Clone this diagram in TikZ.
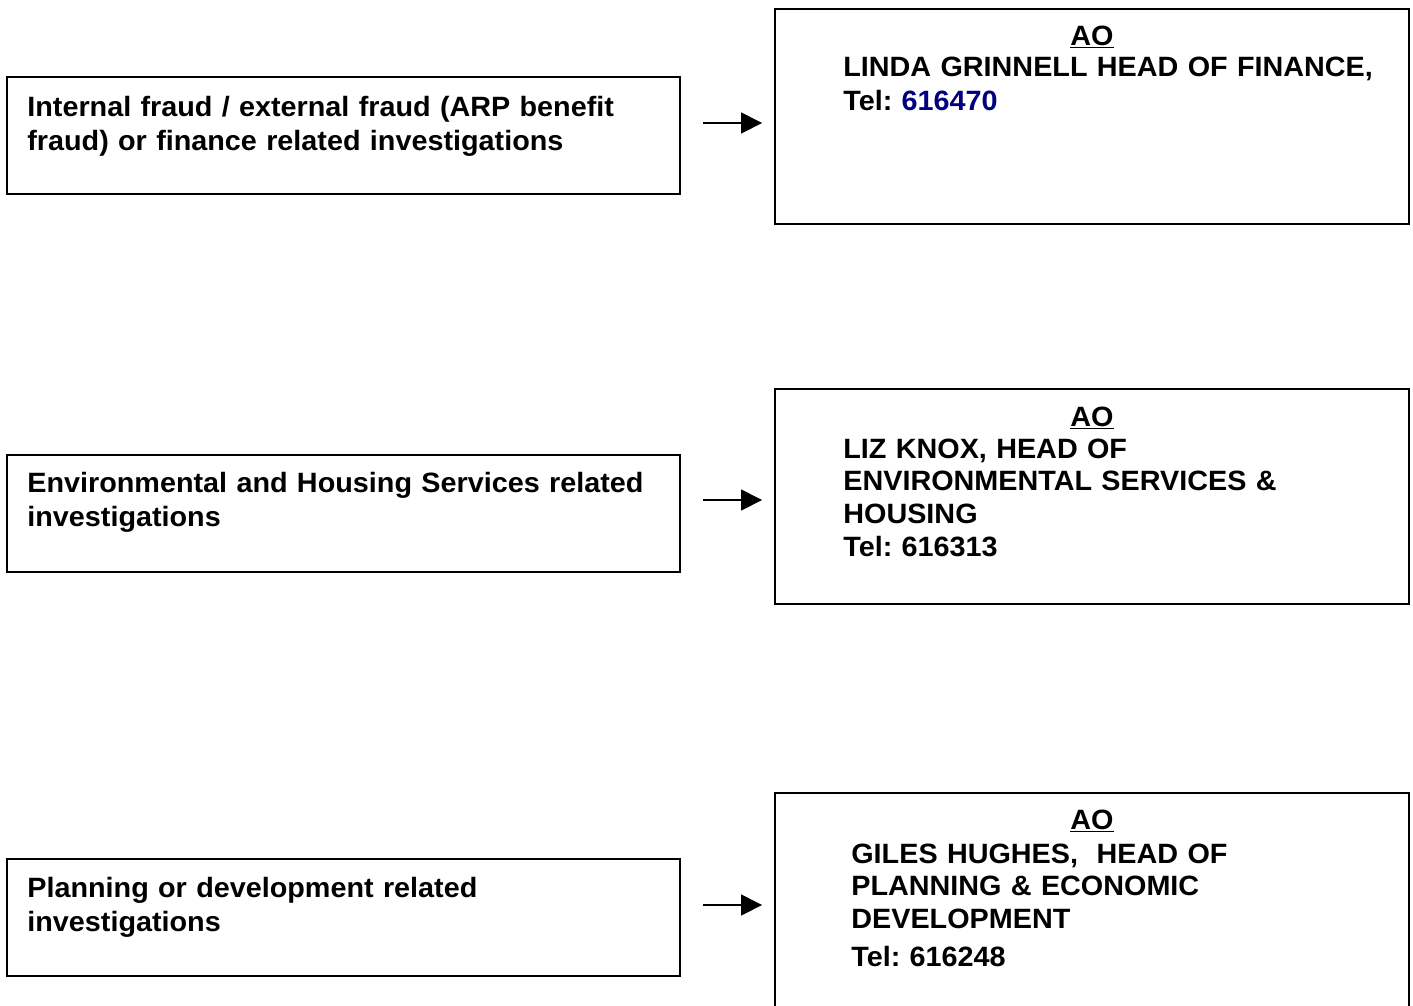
\documentclass[tikz,border=0pt]{standalone}
\usepackage{fontspec}
\setmainfont{Liberation Sans}[FakeStretch=1.03]
\usetikzlibrary{arrows.meta}
\definecolor{telnavy}{RGB}{0,0,128}
\frenchspacing

\begin{document}
\begin{tikzpicture}[x=0.02cm, y=-0.02cm,
    casebox/.style={draw, line width=0.9pt, inner sep=0pt, outer sep=0pt,
      minimum width=13.46cm, minimum height=2.34cm},
    aobox/.style={draw, line width=0.9pt, inner sep=0pt, outer sep=0pt,
      minimum width=12.68cm, minimum height=4.3cm},
    txt/.style={anchor=base west, inner sep=0pt, align=left,
      font=\fontsize{15.9}{19.4}\selectfont\bfseries},
    arr/.style={line width=0.8pt, -{Triangle[length=0.42cm, width=0.42cm]},
      shorten <=0.46cm, shorten >=0.26cm}]
  \useasboundingbox (0,0) rectangle (1413,1005);

  % Left boxes
  \node[casebox] (l1) at (343.5,135.5) {};
  \node[casebox] (l2) at (343.5,513.5) {};
  \node[casebox] (l3) at (343.5,917.5) {};

  \node[txt, text width=12.9cm] (l1t) at (27,116)
    {Internal fraud / external fraud (ARP benefit\\fraud) or finance related investigations};
  \node[txt, text width=12.9cm] (l2t) at (27,492)
    {Environmental and Housing Services related\\investigations};
  \node[txt, text width=12.9cm] (l3t) at (27,897)
    {Planning or development related\\investigations};

  % Right boxes
  \node[aobox] (r1) at (1092,116.5) {};
  \node[aobox] (r2) at (1092,496.5) {};
  \node[aobox] (r3) at (1092,900.5) {};

  \node[txt, anchor=base] (r1a) at (1092,45) {\underline{AO}};
  \node[txt, anchor=base] (r2a) at (1092,426) {\underline{AO}};
  \node[txt, anchor=base] (r3a) at (1092,829) {\underline{AO}};

  \node[txt, text width=11.2cm] (r1t) at (843,76)
    {LINDA GRINNELL HEAD OF FINANCE,\\Tel: \textcolor{telnavy}{616470}};
  \node[txt, text width=11.2cm, font=\fontsize{15.9}{18.6}\selectfont\bfseries] (r2t) at (843,458)
    {LIZ KNOX, HEAD OF\\ENVIRONMENTAL SERVICES \&\\HOUSING\\Tel: 616313};
  \node[txt, text width=11.2cm, font=\fontsize{15.9}{18.6}\selectfont\bfseries] (r3t) at (851,863)
    {GILES HUGHES,\ \ HEAD OF\\PLANNING \& ECONOMIC\\DEVELOPMENT\\[3pt]Tel: 616248};

  % Arrows
  \draw[arr] (l1.east |- 0,123) -- (r1.west |- 0,123);
  \draw[arr] (l2.east |- 0,500) -- (r2.west |- 0,500);
  \draw[arr] (l3.east |- 0,905) -- (r3.west |- 0,905);
\end{tikzpicture}
\end{document}
